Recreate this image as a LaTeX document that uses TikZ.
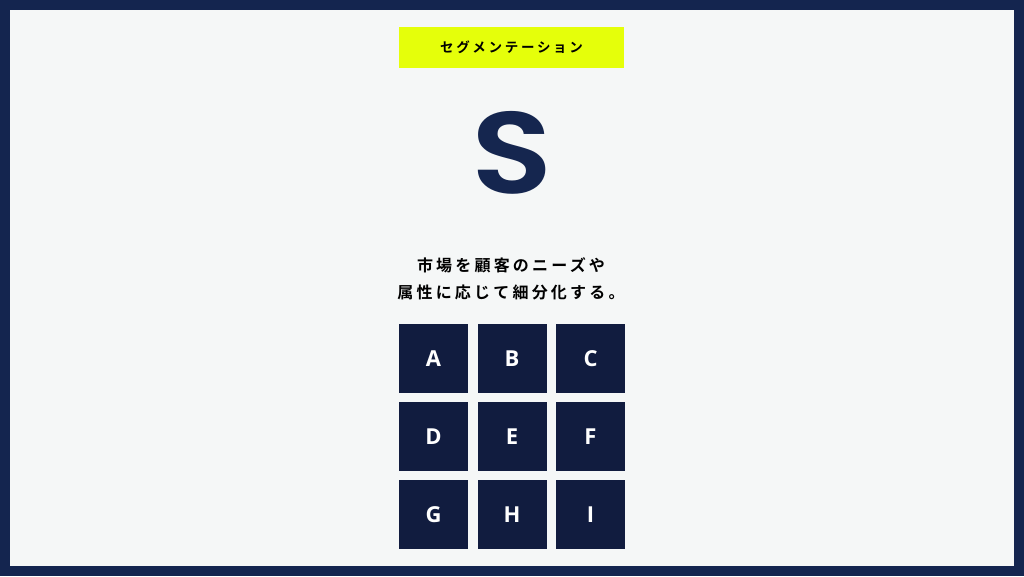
\documentclass[tikz,border=0pt]{standalone}
\usepackage{fontspec}
\setmainfont{Open Sans}
\newfontfamily\jp{Noto Sans CJK JP}[BoldFont={Noto Sans CJK JP Bold},LetterSpace=20]
\newfontfamily\segfont{Poppins SemiBold}
\definecolor{framenavy}{HTML}{14254F}
\definecolor{paper}{HTML}{F5F7F7}
\definecolor{tagyellow}{HTML}{E5FF0A}
\definecolor{cellnavy}{HTML}{111C3F}
\definecolor{snavy}{HTML}{15264F}
\begin{document}
\begin{tikzpicture}[x=1pt,y=-1pt,
    cell/.style={fill=cellnavy,minimum size=69pt,inner sep=0pt,text=white,font=\bfseries\fontsize{22}{22}\selectfont}]
    \fill[framenavy](0,0)rectangle(1024,576);
    \fill[paper](10,10)rectangle(1014,566);
    \node[fill=tagyellow,minimum width=225pt,minimum height=41pt,font=\jp\bfseries\fontsize{13.5}{14}\selectfont](tag) at (511.5,47){セグメンテーション};
    \node[text=snavy,inner sep=0pt,font=\segfont\fontsize{116}{116}\selectfont](bigS) at (512.5,153){\scalebox{1.15}[1]{S}};
    \node[align=center,font=\jp\bfseries\fontsize{16}{27}\selectfont](desc) at (511,279){市場を顧客のニーズや\\属性に応じて細分化する。};
    \foreach \l [count=\i from 0, evaluate=\i as \cx using {433.5+78.5*mod(\i,3)}, evaluate=\i as \cy using {358.5+78*int(\i/3)}] in {A,B,...,I}
        \node[cell](cell\l) at (\cx,\cy){\l};
\end{tikzpicture}
\end{document}
